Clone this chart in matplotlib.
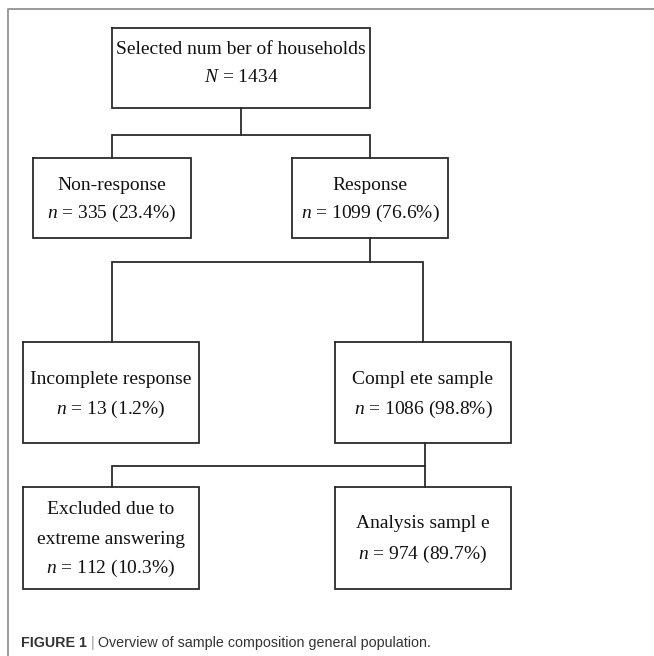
import matplotlib
matplotlib.use("Agg")
import matplotlib.pyplot as plt

plt.rcParams['mathtext.fontset'] = 'custom'
plt.rcParams['mathtext.rm'] = 'Liberation Serif'
plt.rcParams['mathtext.it'] = 'Liberation Serif:italic'

# Flowchart content
box_names = ["total", "nonresp", "resp", "incomplete", "complete", "excluded", "analysis"]
box_lines = [
    ["Selected num ber of households", "$N$ = 1434"],
    ["Non-response", "$n$ = 335 (23.4%)"],
    ["Response", "$n$ = 1099 (76.6%)"],
    ["Incomplete response", "$n$ = 13 (1.2%)"],
    ["Compl ete sample", "$n$ = 1086 (98.8%)"],
    ["Excluded due to", "extreme answering", "$n$ = 112 (10.3%)"],
    ["Analysis sampl e", "$n$ = 974 (89.7%)"],
]
caption_label = "FIGURE 1"
caption_text = "Overview of sample composition general population."

# Layout in pixels (x right, y down): left, top, right, bottom
box_rect = {
    "total": (112, 28, 370, 108),
    "nonresp": (33, 158, 191, 238),
    "resp": (292, 158, 448, 238),
    "incomplete": (23, 342, 199, 443),
    "complete": (335, 342, 511, 443),
    "excluded": (23, 487, 199, 589),
    "analysis": (335, 487, 511, 589),
}
line_y = {
    "total": [50, 78],
    "nonresp": [185, 213],
    "resp": [185, 213],
    "incomplete": [379, 409],
    "complete": [379, 409],
    "excluded": [510, 540, 568],
    "analysis": [524, 554],
}
connectors = [
    [(241, 108), (241, 135)],
    [(112, 158), (112, 135), (370, 135), (370, 158)],
    [(370, 238), (370, 262)],
    [(112, 342), (112, 262), (423, 262), (423, 342)],
    [(425, 443), (425, 487)],
    [(112, 487), (112, 466), (425, 466)],
]

W, H = 654, 656
fig = plt.figure(figsize=(W / 100, H / 100), dpi=100)
ax = fig.add_axes([0, 0, 1, 1])
ax.set_xlim(0, W)
ax.set_ylim(H, 0)
ax.axis("off")

ink = "#2b2b2b"

# outer frame (top and left edges visible)
ax.plot([8, 8, W + 5], [H + 5, 9, 9], color="#9a9a9a", lw=1.4, solid_capstyle="butt")

for name, lines in zip(box_names, box_lines):
    x0, y0, x1, y1 = box_rect[name]
    ax.plot([x0, x1, x1, x0, x0], [y0, y0, y1, y1, y0], color=ink, lw=1.3,
            solid_joinstyle="miter")
    cx = (x0 + x1) / 2
    for txt, y in zip(lines, line_y[name]):
        ax.text(cx, y, txt, ha="center", va="center", fontsize=14,
                family="Liberation Serif", color="#111111")

for path in connectors:
    xs, ys = zip(*path)
    ax.plot(xs, ys, color=ink, lw=1.3, solid_joinstyle="miter")

t1 = ax.text(21, 643, caption_label, ha="left", va="center", fontsize=10.3,
             family="Liberation Sans", weight="bold", color="#333333")
t2 = ax.annotate(" | ", xy=(1, 0.5), xycoords=t1, ha="left", va="center",
                 fontsize=10.3, family="Liberation Sans", color="#999999")
ax.annotate(caption_text, xy=(1, 0.5), xycoords=t2, ha="left", va="center",
            fontsize=10.3, family="Liberation Sans", color="#333333")

fig.savefig("out.png", dpi=100)
